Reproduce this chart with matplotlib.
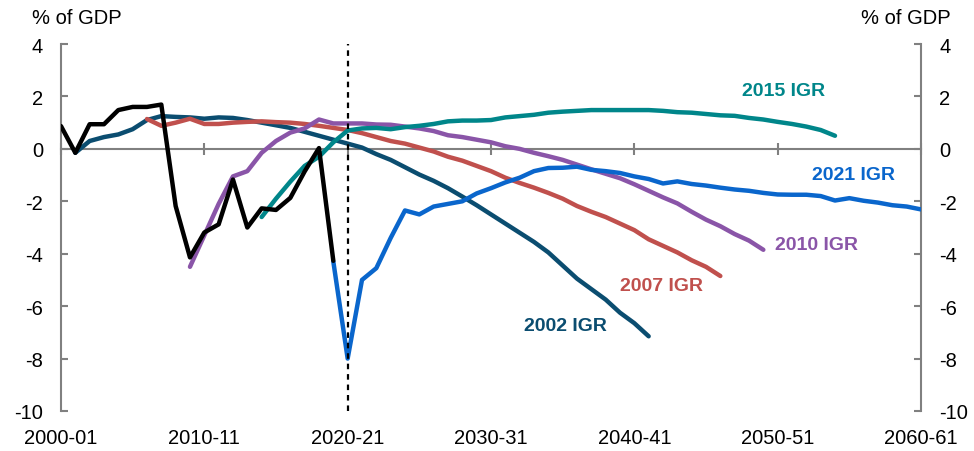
import matplotlib.pyplot as plt
import numpy as np

plt.rcParams['font.family'] = ['Liberation Sans', 'DejaVu Sans']
plt.rcParams['axes.unicode_minus'] = False

# Etiquetas del eje x (años fiscales)
year_labels = ['2000-01', '2010-11', '2020-21', '2030-31', '2040-41', '2050-51', '2060-61']

# Datos reales (negro), desde 2000-01
actual_start = 0
actual = [0.87, -0.15, 0.94, 0.94, 1.48, 1.6, 1.6, 1.69, -2.18, -4.14,
          -3.19, -2.88, -1.17, -3.0, -2.27, -2.33, -1.87, -0.86, 0.03, -4.27]

# 2002 IGR, desde 2001-02
igr2002_start = 1
igr2002 = [-0.15, 0.3, 0.45, 0.55, 0.75, 1.1, 1.25, 1.22, 1.2, 1.15,
           1.2, 1.18, 1.1, 1.0, 0.9, 0.8, 0.65, 0.5, 0.35, 0.2,
           0.05, -0.2, -0.42, -0.7, -0.98, -1.22, -1.5, -1.82, -2.15, -2.5,
           -2.85, -3.2, -3.55, -3.95, -4.45, -4.95, -5.35, -5.75, -6.25, -6.65,
           -7.15]

# 2007 IGR, desde 2006-07
igr2007_start = 6
igr2007 = [1.14, 0.88, 1.0, 1.15, 0.95, 0.95, 1.0, 1.03, 1.05, 1.02,
           1.0, 0.95, 0.88, 0.8, 0.72, 0.6, 0.45, 0.3, 0.2, 0.05,
           -0.1, -0.3, -0.45, -0.65, -0.85, -1.1, -1.3, -1.48, -1.68, -1.9,
           -2.18, -2.4, -2.6, -2.85, -3.1, -3.45, -3.7, -3.95, -4.25, -4.5,
           -4.85]

# 2010 IGR, desde 2009-10
igr2010_start = 9
igr2010 = [-4.5, -3.3, -2.1, -1.05, -0.85, -0.15, 0.3, 0.62, 0.78, 1.12,
           0.97, 0.97, 0.97, 0.93, 0.92, 0.85, 0.78, 0.68, 0.52, 0.45,
           0.35, 0.25, 0.1, 0.0, -0.15, -0.28, -0.42, -0.6, -0.78, -0.95,
           -1.12, -1.35, -1.6, -1.85, -2.08, -2.4, -2.7, -2.95, -3.25, -3.5,
           -3.85]

# 2015 IGR, desde 2014-15
igr2015_start = 14
igr2015 = [-2.6, -1.9, -1.25, -0.65, -0.3, 0.25, 0.7, 0.78, 0.8, 0.75,
           0.83, 0.88, 0.95, 1.05, 1.08, 1.08, 1.1, 1.2, 1.25, 1.3,
           1.38, 1.42, 1.45, 1.48, 1.48, 1.48, 1.48, 1.48, 1.45, 1.4,
           1.38, 1.33, 1.28, 1.26, 1.18, 1.12, 1.03, 0.95, 0.85, 0.72,
           0.5]

# 2021 IGR, desde 2019-20
igr2021_start = 19
igr2021 = [-4.3, -8.0, -5.0, -4.55, -3.4, -2.35, -2.5, -2.2, -2.1, -2.0,
           -1.7, -1.5, -1.28, -1.1, -0.85, -0.73, -0.72, -0.68, -0.8, -0.85,
           -0.92, -1.05, -1.15, -1.32, -1.24, -1.34, -1.4, -1.48, -1.55, -1.6,
           -1.68, -1.74, -1.75, -1.75, -1.8, -1.97, -1.88, -1.98, -2.05, -2.15,
           -2.2, -2.31]

series = [
    ('2002 IGR', igr2002_start, igr2002, '#0b4d70'),
    ('2007 IGR', igr2007_start, igr2007, '#c0504d'),
    ('2010 IGR', igr2010_start, igr2010, '#8a55a8'),
    ('2015 IGR', igr2015_start, igr2015, '#00868a'),
    ('2021 IGR', igr2021_start, igr2021, '#0a66cc'),
]

# Posición de las etiquetas de cada serie (en coordenadas de datos)
label_pos = {
    '2002 IGR': (35.2, -6.73),
    '2007 IGR': (41.9, -5.21),
    '2010 IGR': (52.7, -3.64),
    '2015 IGR': (50.4, 2.23),
    '2021 IGR': (55.3, -0.98),
}

fig = plt.figure(figsize=(9.74, 4.52), dpi=100)
ax = fig.add_axes([0.0626, 0.0885, 0.883, 0.8119])

grey = '#808080'

# Líneas de proyección
for name, start, vals, color in series:
    x = np.arange(start, start + len(vals))
    ax.plot(x, vals, color=color, lw=3.2, solid_capstyle='round', solid_joinstyle='round', zorder=3)
    lx, ly = label_pos[name]
    ax.text(lx, ly, name, color=color, fontsize=14, fontweight='bold',
            ha='center', va='center')

# Datos reales
xa = np.arange(actual_start, actual_start + len(actual))
ax.plot(xa, actual, color='black', lw=3.2, solid_capstyle='round', zorder=4)

# Línea vertical punteada en 2020-21
ax.axvline(20, color='black', lw=1.6, linestyle=(0, (2.5, 2.2)), zorder=5)

ax.set_xlim(0, 60)
ax.set_ylim(-10, 4)

# Eje x en cero
ax.spines['top'].set_visible(False)
ax.spines['bottom'].set_position(('data', 0))
for s in ['left', 'right', 'bottom']:
    ax.spines[s].set_color(grey)
    ax.spines[s].set_linewidth(1.5)
    ax.spines[s].set_zorder(1)

ax.set_xticks(np.arange(0, 61, 10))
ax.set_xticklabels([])
ax.tick_params(axis='x', direction='inout', length=9, width=1.5, color=grey)

ax.set_yticks(np.arange(-10, 5, 2))
ax.tick_params(axis='y', direction='in', length=5, width=1.5, color=grey,
               left=True, right=True, labelleft=True, labelright=True,
               labelsize=14.5, pad=13)

# Etiquetas del eje x abajo
for i, lab in enumerate(year_labels):
    ax.annotate(lab, (i * 10, -10), xytext=(0, -12), textcoords='offset points',
                ha='center', va='top', fontsize=14.5)

fig.text(32 / 974, 1 - 18 / 452, '% of GDP', fontsize=14.5, ha='left', va='center')
fig.text(951 / 974, 1 - 18 / 452, '% of GDP', fontsize=14.5, ha='right', va='center')

fig.savefig('out.png', dpi=100)
